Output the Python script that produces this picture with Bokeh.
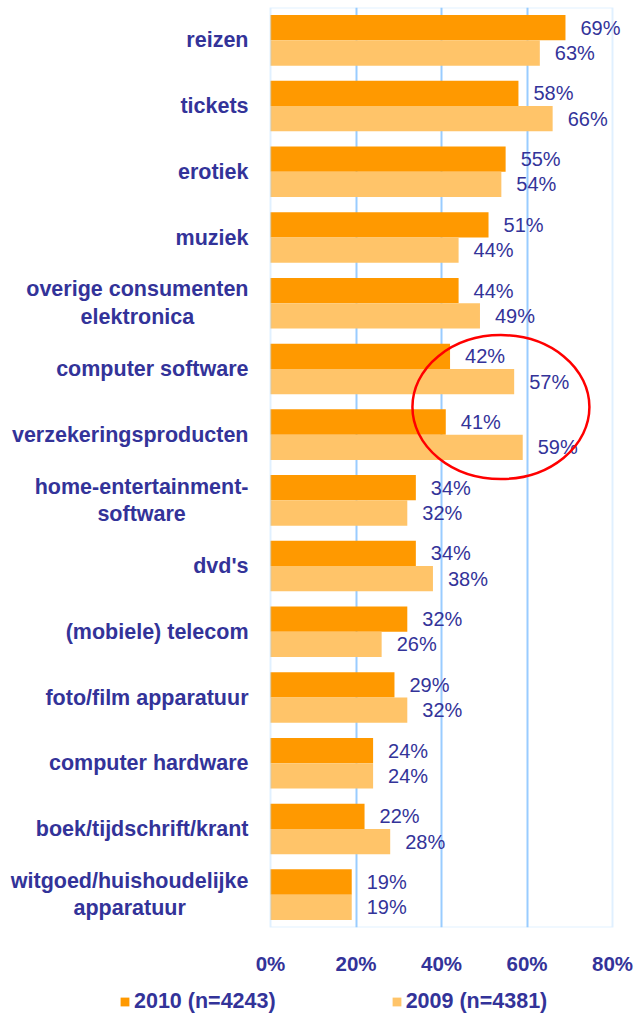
from bokeh.plotting import figure
from bokeh.layouts import column
from bokeh.models import (ColumnDataSource, FactorRange, Range1d, FixedTicker, BoxAnnotation,
                          Legend, LegendItem)
from bokeh.transform import dodge
from bokeh.core.properties import value
from bokeh.embed import file_html
from bokeh.resources import INLINE

# ---------------- data ----------------
categories = [
    "reizen",
    "tickets",
    "erotiek",
    "muziek",
    "overige consumenten\nelektronica",
    "computer software",
    "verzekeringsproducten",
    "home-entertainment-\nsoftware",
    "dvd's",
    "(mobiele) telecom",
    "foto/film apparatuur",
    "computer hardware",
    "boek/tijdschrift/krant",
    "witgoed/huishoudelijke\napparatuur",
]
values_2010 = [69, 58, 55, 51, 44, 42, 41, 34, 34, 32, 29, 24, 22, 19]
values_2009 = [63, 66, 54, 44, 49, 57, 59, 32, 38, 26, 32, 24, 28, 19]
series_labels = ["2010 (n=4243)", "2009 (n=4381)"]
x_ticks = [0, 20, 40, 60, 80]
x_tick_labels = ["0%", "20%", "40%", "60%", "80%"]

# highlighted region (red ellipse)
highlight_category = "verzekeringsproducten"
highlight_x = 53.9
highlight_dy = 0.42
highlight_w = 41.4
highlight_h = 2.19

# ---------------- style ----------------
FONT = "Liberation Sans"
TEXT = "#333399"
C2010 = "#FF9900"
C2009 = "#FFC469"
GRID = "#99CCFF"

W = 635
H_MAIN, H_LEG = 980, 34
ZERO_PX = 270          # distance of 0% from left edge of figure
PX_PER_PCT = 4.275
x_start = -ZERO_PX / PX_PER_PCT
x_end = (W - ZERO_PX) / PX_PER_PCT

src = ColumnDataSource(dict(
    cat=categories,
    v2010=values_2010,
    v2009=values_2009,
    l2010=[f"{v}%" for v in values_2010],
    l2009=[f"{v}%" for v in values_2009],
))

p = figure(width=W, height=H_MAIN,
           x_range=Range1d(x_start, x_end),
           y_range=FactorRange(factors=list(reversed(categories))),
           output_backend="svg", toolbar_location=None,
           y_axis_location=None,
           min_border_left=0, min_border_right=0,
           min_border_top=7, min_border_bottom=H_MAIN - 927)
p.outline_line_color = None
p.background_fill_color = "white"
p.border_fill_color = "white"

# grid
p.xgrid.ticker = FixedTicker(ticks=x_ticks[1:-1])
p.xgrid.grid_line_color = GRID
p.xgrid.grid_line_width = 2
p.ygrid.grid_line_color = None

# x axis
ax = p.xaxis[0]
ax.ticker = FixedTicker(ticks=x_ticks)
ax.major_label_overrides = {t: l for t, l in zip(x_ticks, x_tick_labels)}
ax.axis_line_color = None
ax.major_tick_line_color = None
ax.minor_tick_line_color = None
ax.major_tick_out = 0
ax.major_tick_in = 0
ax.major_label_standoff = 24
ax.major_label_text_font = FONT
ax.major_label_text_font_size = "20.5px"
ax.major_label_text_font_style = "bold"
ax.major_label_text_color = TEXT

BAR_H = 0.385
off = BAR_H / 2

p.hbar(y=dodge("cat", off, range=p.y_range), left=0, right="v2010", height=BAR_H,
       source=src, fill_color=C2010, line_color=None)
p.hbar(y=dodge("cat", -off, range=p.y_range), left=0, right="v2009", height=BAR_H,
       source=src, fill_color=C2009, line_color=None)

# value labels
for col, lab, d in (("v2010", "l2010", off), ("v2009", "l2009", -off)):
    p.text(x=col, y=dodge("cat", d, range=p.y_range), text=lab, source=src,
           x_offset=15, text_align="left", text_baseline="middle",
           text_font=value(FONT), text_font_size="20px", text_color=TEXT)

# category labels
p.text(x=0, y="cat", text="cat", source=src, x_offset=-22,
       anchor="center_right", text_align="center", text_baseline="middle",
       text_line_height=1.15,
       text_font=value(FONT), text_font_size="21.5px", text_font_style="bold",
       text_color=TEXT)

# plot box
p.add_layout(BoxAnnotation(left=x_ticks[0], right=x_ticks[-1], fill_alpha=0,
                           line_color=GRID, line_width=2))

# highlight ellipse
hsrc = ColumnDataSource(dict(x=[highlight_x], y=[highlight_category]))
p.ellipse(x="x", y=dodge("y", highlight_dy, range=p.y_range), width=highlight_w,
          height=highlight_h, source=hsrc, fill_color=None, line_color="#FF0000",
          line_width=2.5)

# ---------------- legend strip ----------------
q = figure(width=W, height=H_LEG, x_range=Range1d(0, 1), y_range=Range1d(0, 1),
           output_backend="svg", toolbar_location=None,
           x_axis_location=None, y_axis_location=None,
           min_border_left=0, min_border_right=0, min_border_top=0, min_border_bottom=0)
q.outline_line_color = None
q.xgrid.visible = False
q.ygrid.visible = False
# swatch renderers: same series, placed outside this strip's visible range
lr1 = q.hbar(y=-5, left=0, right="v2010", height=0.1, source=src,
             fill_color=C2010, line_color=None)
lr2 = q.hbar(y=-5, left=0, right="v2009", height=0.1, source=src,
             fill_color=C2009, line_color=None)
leg = Legend(items=[LegendItem(label=series_labels[0], renderers=[lr1], index=0),
                    LegendItem(label=series_labels[1], renderers=[lr2], index=0)],
             location=(119, 0), orientation="horizontal",
             glyph_width=11, glyph_height=11, label_standoff=4, spacing=115,
             padding=0, margin=0, border_line_color=None, background_fill_alpha=0,
             label_text_font=FONT, label_text_font_size="21.5px",
             label_text_font_style="bold", label_text_color=TEXT)
q.add_layout(leg)

open("out.html", "w").write(file_html(column(p, q), INLINE))
